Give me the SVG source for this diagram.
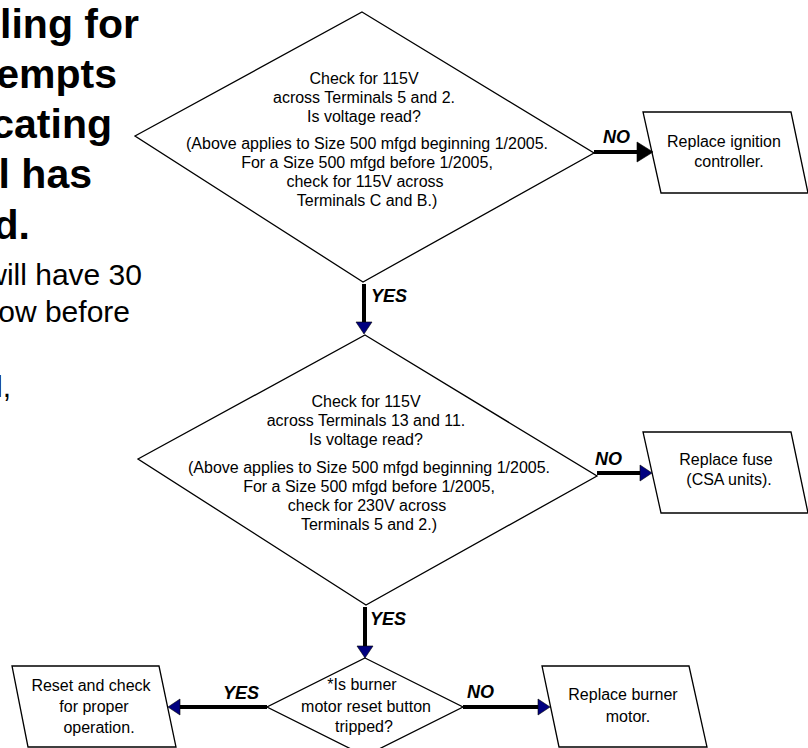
<svg xmlns="http://www.w3.org/2000/svg" width="808" height="748" viewBox="0 0 808 748">
<style>
  .shape { fill: #fff; stroke: #000; stroke-width: 1.3; }
  .t { font-family: "Liberation Sans", Arial, sans-serif; font-size: 16px; fill: #000; text-anchor: middle; }
  .lbl { font-family: "Liberation Sans", Arial, sans-serif; font-size: 18px; font-weight: bold; font-style: italic; fill: #000; }
  .big { font-family: "Liberation Sans", Arial, sans-serif; font-size: 41px; font-weight: bold; fill: #000; text-anchor: end; }
  .body { font-family: "Liberation Sans", Arial, sans-serif; font-size: 30px; fill: #000; text-anchor: end; }
  .ln { stroke: #000; stroke-width: 4; fill: none; }
  .ah { fill: #000080; stroke: #000; stroke-width: 0.6; }
  .ahk { fill: #000; stroke: #000; stroke-width: 0.6; }
</style>
<rect width="808" height="748" fill="#fff"/>

<g id="intro">
  <text class="big" x="139" y="38">ling for</text>
  <text class="big" x="117" y="88">empts</text>
  <text class="big" x="112" y="138">cating</text>
  <text class="big" x="92" y="188">l has</text>
  <text class="big" x="30" y="239">d.</text>
  <text class="body" x="142" y="285">will have 30</text>
  <text class="body" x="130" y="322">ow before</text>
  <text class="body" x="11" y="397">l,</text>
</g>

<g id="d1">
  <polygon class="shape" points="362,12 594,153 363,282 135,136"/>
  <text class="t" x="364" y="84">Check for 115V</text>
  <text class="t" x="364" y="103">across Terminals 5 and 2.</text>
  <text class="t" x="364" y="122">Is voltage read?</text>
  <text class="t" x="367" y="149">(Above applies to Size 500 mfgd beginning 1/2005.</text>
  <text class="t" x="367" y="168">For a Size 500 mfgd before 1/2005,</text>
  <text class="t" x="365" y="187">check for 115V across</text>
  <text class="t" x="367" y="206">Terminals C and B.)</text>
</g>

<g id="p1">
  <polygon class="shape" points="643,112 791,112 808,193 661,193"/>
  <text class="t" x="724" y="147">Replace ignition</text>
  <text class="t" x="729" y="167">controller.</text>
</g>

<g id="d2">
  <polygon class="shape" points="365,335 597,476 366,605 138,459"/>
  <text class="t" x="366" y="407">Check for 115V</text>
  <text class="t" x="366" y="426">across Terminals 13 and 11.</text>
  <text class="t" x="366" y="445">Is voltage read?</text>
  <text class="t" x="369" y="473">(Above applies to Size 500 mfgd beginning 1/2005.</text>
  <text class="t" x="369" y="492">For a Size 500 mfgd before 1/2005,</text>
  <text class="t" x="367" y="511">check for 230V across</text>
  <text class="t" x="369" y="530">Terminals 5 and 2.)</text>
</g>

<g id="p2">
  <polygon class="shape" points="643,432 791,432 808,513 661,513"/>
  <text class="t" x="726" y="465">Replace fuse</text>
  <text class="t" x="729" y="485">(CSA units).</text>
</g>

<g id="d3">
  <polygon class="shape" points="365,658 463,707 365,756 267,707"/>
  <text class="t" x="362" y="690">*Is burner</text>
  <text class="t" x="366" y="712">motor reset button</text>
  <text class="t" x="364" y="732">tripped?</text>
</g>

<g id="p3">
  <polygon class="shape" points="12,666 159,666 176,747 28,747"/>
  <text class="t" x="91" y="691">Reset and check</text>
  <text class="t" x="94" y="712">for proper</text>
  <text class="t" x="99" y="733">operation.</text>
</g>

<g id="p4">
  <polygon class="shape" points="542,666 689,666 707,747 559,747"/>
  <text class="t" x="623" y="700">Replace burner</text>
  <text class="t" x="628" y="722">motor.</text>
</g>

<g id="connectors">
  <line class="ln" x1="594" y1="152" x2="638" y2="152"/>
  <polygon class="ahk" points="637,142 653,152 637,162"/>
  <text class="lbl" x="603" y="143">NO</text>

  <line class="ln" x1="364" y1="284" x2="364" y2="323"/>
  <polygon class="ah" points="356,322 372,322 364,334"/>
  <text class="lbl" x="371" y="302">YES</text>

  <line class="ln" x1="597" y1="473" x2="642" y2="473"/>
  <polygon class="ah" points="640,465 652,473 640,481"/>
  <text class="lbl" x="595" y="465">NO</text>

  <line class="ln" x1="365" y1="607" x2="365" y2="647"/>
  <polygon class="ah" points="357,646 373,646 365,658"/>
  <text class="lbl" x="370" y="625">YES</text>

  <line class="ln" x1="267" y1="707" x2="179" y2="707"/>
  <polygon class="ah" points="180,699 168,707 180,715"/>
  <text class="lbl" x="223" y="699">YES</text>

  <line class="ln" x1="463" y1="707" x2="539" y2="707"/>
  <polygon class="ah" points="538,699 550,707 538,715"/>
  <text class="lbl" x="467" y="698">NO</text>
</g>
</svg>
